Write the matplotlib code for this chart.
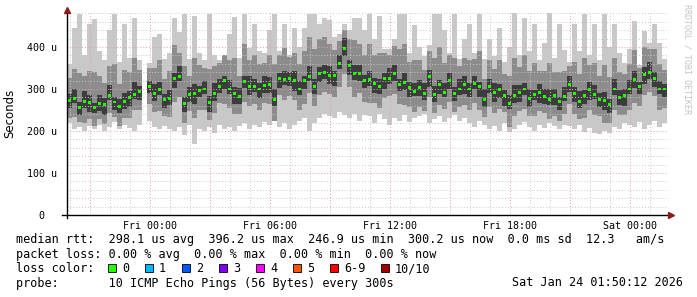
import numpy as np
import pandas as pd
import matplotlib
matplotlib.use("Agg")
import matplotlib.pyplot as plt
import matplotlib.dates as mdates
from matplotlib.patches import Rectangle
from matplotlib.lines import Line2D
from matplotlib.ticker import MultipleLocator, FuncFormatter

nan = np.nan

# ---- data (microseconds), 15-minute bins starting Thu 2026-01-22 19:50 ----
start_time = "2026-01-22 19:50"
bin_minutes = 15

median_us = [
    272, 278, 257, 270, 268, 256, 266, 264, 285, 269,
    258, 270, 280, 288, 295, nan, 305, 290, 298, 275,
    278, 325, 330, 265, 287, 290, 296, 300, 268, 290,
    306, 320, 300, 290, 282, 318, 305, 305, 300, 308,
    310, 275, 325, 322, 326, 320, 300, 320, 330, 305,
    338, 340, 332, 332, 360, 396, 355, 336, 338, 321,
    322, 312, 305, 326, 325, 338, 310, 316, 304, 295,
    303, 290, 330, 288, 310, 292, 320, 290, 300, 310,
    300, 312, 305, 275, 305, 292, 298, 285, 265, 285,
    292, 300, 278, 286, 292, 282, 276, 285, 270, 283,
    310, 290, 270, 285, 298, 288, 276, 272, 264, 300,
    280, 285, 300, 322, 305, 335, 340, 325, 300, 300,
]

ping_max_us = [
    360, 445, 478, 380, 455, 466, 390, 370, 440, 478,
    365, 455, 375, 470, 368, nan, 362, 425, 430, 372,
    385, 470, 435, 478, 372, 475, 385, 368, 478, 380,
    370, 382, 430, 472, 375, 478, 398, 455, 390, 385,
    440, 478, 390, 455, 380, 446, 400, 445, 478, 478,
    455, 470, 465, 425, 430, 455, 440, 470, 470, 440,
    478, 420, 475, 395, 395, 420, 478, 478, 385, 452,
    400, 378, 405, 478, 478, 440, 385, 478, 372, 420,
    455, 385, 478, 372, 420, 378, 446, 365, 400, 480,
    380, 470, 390, 454, 370, 410, 480, 375, 454, 392,
    365, 454, 390, 478, 382, 454, 368, 478, 400, 454,
    385, 362, 395, 462, 358, 438, 410, 454, 410, 372,
]

ping_min_us = [
    218, 205, 210, 200, 212, 205, 215, 200, 210, 222,
    205, 215, 208, 200, 215, nan, 225, 210, 205, 212,
    205, 200, 210, 190, 215, 168, 205, 200, 210, 195,
    215, 205, 210, 200, 212, 218, 205, 215, 210, 222,
    215, 225, 210, 220, 205, 215, 225, 232, 200, 220,
    230, 240, 235, 230, 245, 238, 232, 240, 225, 238,
    235, 220, 240, 228, 215, 232, 225, 238, 222, 230,
    235, 240, 220, 228, 235, 222, 230, 238, 225, 232,
    220, 210, 225, 215, 205, 212, 200, 218, 198, 205,
    215, 222, 210, 200, 215, 208, 220, 212, 205, 215,
    212, 205, 215, 198, 208, 195, 192, 200, 195, 210,
    205, 220, 215, 210, 222, 205, 215, 225, 210, 220,
]

# spread of the middle pings above / below the median
mid_up_us = [
    55, 70, 80, 60, 75, 85, 65, 50, 70, 90,
    55, 75, 60, 85, 50, nan, 45, 60, 70, 50,
    65, 80, 55, 90, 45, 85, 60, 50, 80, 65,
    55, 60, 70, 85, 50, 90, 65, 75, 60, 55,
    70, 85, 55, 75, 50, 65, 60, 70, 95, 90,
    80, 85, 75, 60, 55, 45, 65, 80, 70, 60,
    85, 70, 80, 60, 55, 65, 85, 90, 60, 75,
    65, 55, 60, 85, 90, 70, 60, 85, 55, 65,
    70, 60, 85, 50, 65, 55, 70, 50, 65, 90,
    60, 80, 65, 75, 50, 60, 85, 55, 70, 60,
    45, 75, 65, 90, 60, 75, 55, 85, 65, 75,
    60, 50, 60, 70, 45, 65, 55, 70, 60, 45,
]
mid_dn_us = [
    40, 45, 35, 50, 40, 45, 38, 48, 42, 35,
    45, 40, 50, 38, 45, nan, 40, 45, 50, 40,
    45, 55, 50, 45, 40, 60, 45, 50, 42, 48,
    40, 55, 45, 50, 42, 48, 45, 40, 50, 42,
    45, 50, 40, 48, 42, 45, 50, 55, 40, 45,
    52, 48, 45, 50, 55, 60, 50, 55, 48, 52,
    55, 45, 50, 48, 42, 50, 45, 55, 48, 50,
    45, 42, 50, 45, 48, 40, 50, 45, 42, 48,
    50, 45, 55, 42, 48, 50, 45, 40, 55, 50,
    45, 48, 42, 50, 45, 40, 48, 50, 45, 42,
    45, 50, 42, 55, 48, 50, 40, 52, 45, 50,
    42, 48, 50, 55, 45, 50, 48, 42, 50, 45,
]
inner_up_us = [
    15, 22, 12, 25, 18, 10, 20, 15, 25, 12,
    18, 20, 15, 28, 12, nan, 15, 22, 18, 12,
    20, 12, 25, 15, 18, 22, 10, 20, 15, 25,
    18, 12, 22, 15, 20, 12, 25, 18, 15, 22,
    18, 25, 12, 20, 15, 22, 18, 12, 25, 20,
    15, 18, 22, 12, 20, 25, 15, 20, 18, 12,
    22, 15, 20, 12, 25, 18, 15, 22, 12, 20,
    18, 25, 15, 20, 12, 22, 18, 15, 25, 20,
    15, 20, 12, 25, 18, 22, 15, 12, 20, 25,
    18, 15, 22, 12, 20, 18, 25, 15, 12, 22,
    20, 15, 25, 12, 18, 22, 15, 20, 12, 25,
    18, 15, 22, 20, 12, 18, 25, 15, 20, 12,
]
inner_dn_us = [
    18, 12, 20, 15, 22, 12, 18, 25, 12, 20,
    15, 18, 22, 12, 20, nan, 15, 18, 12, 20,
    15, 22, 12, 20, 18, 25, 15, 12, 22, 18,
    15, 20, 12, 25, 18, 15, 20, 12, 22, 18,
    20, 15, 22, 12, 18, 25, 15, 20, 12, 18,
    22, 15, 20, 25, 12, 18, 22, 15, 20, 18,
    15, 22, 18, 25, 12, 20, 15, 18, 22, 12,
    20, 15, 25, 18, 22, 12, 20, 18, 15, 22,
    20, 12, 25, 18, 15, 22, 20, 25, 12, 18,
    22, 15, 20, 12, 25, 18, 15, 22, 20, 12,
    18, 22, 15, 20, 25, 12, 18, 22, 20, 15,
    18, 25, 12, 20, 18, 22, 15, 20, 12, 18,
]

ytick_values = [0, 100, 200, 300, 400]
loss_labels = ["0", "1", "2", "3", "4", "5", "6-9", "10/10"]
loss_colors = ["#26ff00", "#00b8ff", "#0059ff", "#7e00ff", "#ff00ff",
               "#ff5500", "#ff0000", "#a10000"]

line1 = "median rtt:  298.1 us avg  396.2 us max  246.9 us min  300.2 us now  0.0 ms sd  12.3   am/s"
line2 = "packet loss: 0.00 % avg  0.00 % max  0.00 % min  0.00 % now"
line3 = "loss color:"
line4 = "probe:       10 ICMP Echo Pings (56 Bytes) every 300s"
stamp = "Sat Jan 24 01:50:12 2026"
watermark = "RRDTOOL / TOBI OETIKER"

# ---- figure ----
W, H = 697, 297
fig = plt.figure(figsize=(W / 100, H / 100), dpi=100)
fig.patch.set_facecolor("white")

def fx(px):
    return px / W

def fy(py):
    return 1 - py / H

ax = fig.add_axes([fx(66.7), fy(215), 600 / W, 201.6 / H])

n = len(median_us)
t = pd.date_range(start_time, periods=n, freq=f"{bin_minutes}min") + pd.Timedelta(minutes=bin_minutes / 2)
x = mdates.date2num(t.to_pydatetime())
w = bin_minutes / 1440.0

med = np.array(median_us, float)
pmax = np.array(ping_max_us, float)
pmin = np.array(ping_min_us, float)
mu = np.array(mid_up_us, float)
md = np.array(mid_dn_us, float)
iu = np.array(inner_up_us, float)
idn = np.array(inner_dn_us, float)

ax.bar(x, pmax - pmin, bottom=pmin, width=w, color="#c8c8c8", linewidth=0, zorder=1)
ax.bar(x, mu + md, bottom=med - md, width=w, color="#8c8c8c", linewidth=0, zorder=1.2)
ax.bar(x, iu + idn, bottom=med - idn, width=w, color="#3c3c3c", linewidth=0, zorder=1.4)
ax.bar(x, 7, bottom=med - 3.5, width=w * 0.6, color=loss_colors[0], linewidth=0, zorder=4)

x0 = mdates.date2num(pd.Timestamp(start_time).to_pydatetime())
x1 = x0 + n * w
ax.set_xlim(x0, x1)
ax.set_ylim(0, 480)

ax.xaxis.set_major_locator(mdates.HourLocator(byhour=range(0, 24, 3)))
ax.xaxis.set_minor_locator(mdates.HourLocator())

def xfmt(v, pos):
    d = mdates.num2date(v)
    return d.strftime("%a %H:%M") if d.hour % 6 == 0 else ""

ax.xaxis.set_major_formatter(FuncFormatter(xfmt))
ax.yaxis.set_major_locator(MultipleLocator(100))
ax.yaxis.set_minor_locator(MultipleLocator(20))
ax.set_yticks(ytick_values)
ax.set_yticklabels(["0  " if v == 0 else f"{v} u" for v in ytick_values])

ax.set_axisbelow(False)
ax.grid(which="major", color="#e2a0a0", linestyle=(0, (1, 2)), linewidth=0.7, zorder=2.5)
ax.grid(which="minor", color="#c8c8c8", linestyle=(0, (1, 2)), linewidth=0.7, zorder=2.4)

mono = "DejaVu Sans Mono"
ax.tick_params(which="both", length=0)
ax.tick_params(axis="x", pad=4, labelsize=7.2)
ax.tick_params(axis="y", pad=7, labelsize=7.2)
for lab in ax.get_xticklabels() + ax.get_yticklabels():
    lab.set_fontfamily(mono)

for s in ["top", "right", "left", "bottom"]:
    ax.spines[s].set_visible(False)

# axes lines with arrows
fig.add_artist(Line2D([fx(62), fx(670)], [fy(215), fy(215)], color="black", linewidth=1, transform=fig.transFigure))
fig.add_artist(Line2D([fx(66.7), fx(66.7)], [fy(218), fy(11)], color="black", linewidth=1, transform=fig.transFigure))
fig.add_artist(Line2D([fx(671)], [fy(215)], marker=">", markersize=4, color="#8b1a1a", linestyle="none", transform=fig.transFigure))
fig.add_artist(Line2D([fx(66.7)], [fy(10)], marker="^", markersize=4, color="#8b1a1a", linestyle="none", transform=fig.transFigure))

fig.text(fx(10), fy(113), "Seconds", rotation=90, ha="center", va="center", fontsize=8.5, family="DejaVu Sans")
fig.text(fx(687), fy(4), watermark, rotation=270, ha="center", va="top", fontsize=6.0, family=mono, color="#c4c4c4")

fs = 8.5
fig.text(fx(16), fy(240), line1, ha="left", va="center", fontsize=fs, family=mono)
fig.text(fx(16), fy(254.5), line2, ha="left", va="center", fontsize=fs, family=mono)
fig.text(fx(16), fy(268.5), line3, ha="left", va="center", fontsize=fs, family=mono)
fig.text(fx(16), fy(283), line4, ha="left", va="center", fontsize=fs, family=mono)
fig.text(fx(683), fy(283), stamp, ha="right", va="center", fontsize=fs, family=mono)

sq_x = [108, 145, 182, 219, 256, 293, 330, 381]
for sx, lab, col in zip(sq_x, loss_labels, loss_colors):
    fig.add_artist(Rectangle((fx(sx), fy(272)), 8 / W, 8 / H, facecolor=col, edgecolor="black",
                             linewidth=0.6, transform=fig.transFigure))
    fig.text(fx(sx + 14), fy(268.5), lab, ha="left", va="center", fontsize=fs, family=mono)

fig.savefig("out.png", dpi=100, facecolor="white")
